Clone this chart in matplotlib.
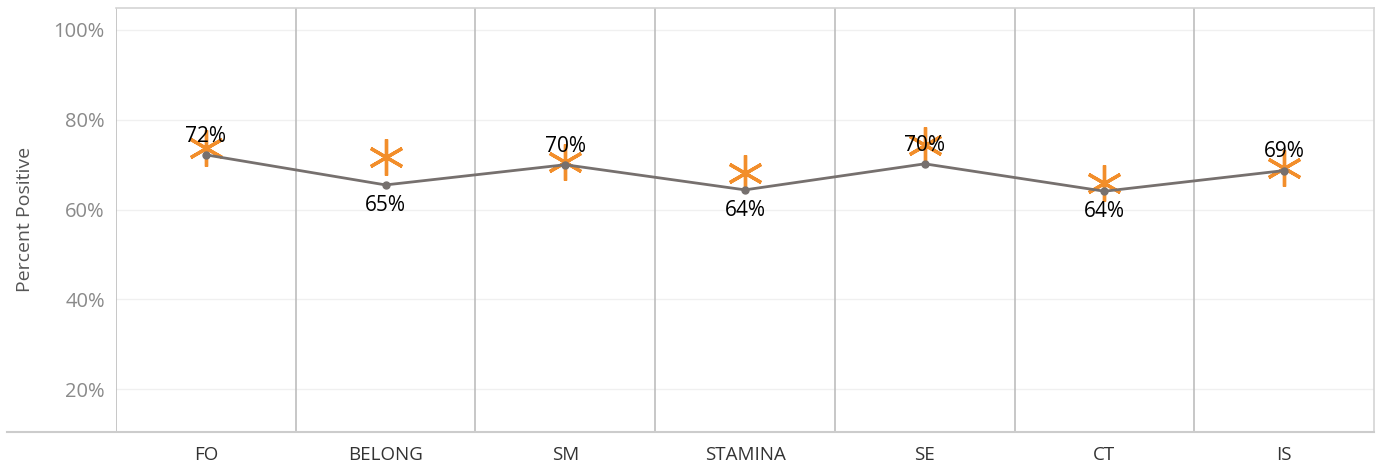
import numpy as np
import matplotlib
matplotlib.use("Agg")
from matplotlib import pyplot as plt
from matplotlib.lines import Line2D

plt.rcParams['font.family'] = ['Open Sans', 'DejaVu Sans']

categories = ["FO", "BELONG", "SM", "STAMINA", "SE", "CT", "IS"]
percent_positive = [72.2, 65.5, 70.0, 64.4, 70.2, 64.1, 68.7]
benchmark = [73.8, 71.8, 70.7, 68.2, 74.5, 66.0, 69.3]
labels = ["72%", "65%", "70%", "64%", "70%", "64%", "69%"]
label_above = [True, False, True, False, True, False, True]
yticks = [20, 40, 60, 80, 100]

fig = plt.figure(figsize=(13.8, 4.67), dpi=100)
ax = fig.add_axes([116/1380, 35/467, 1258/1380, 424.5/467])

x = np.arange(len(categories))

# horizontal gridlines
for t in yticks:
    ax.axhline(t, color="#f0f0f0", lw=1, zorder=0)

# category separators
for b in np.arange(-0.5, len(categories) - 0.5, 1.0):
    ax.axvline(b, color="#bdbdbd", lw=1.2, zorder=1)

ax.plot(x, benchmark, linestyle="none", marker=(6, 2, 0), markersize=26,
        markeredgewidth=2.4, color="#f28e2b", zorder=3)
ax.plot(x, percent_positive, color="#76706e", lw=2, marker="o", markersize=5,
        zorder=4)

for xi, v, lab, up in zip(x, percent_positive, labels, label_above):
    if up:
        ax.text(xi, v + 1.8, lab, ha="center", va="bottom", fontsize=15, color="black", zorder=5)
    else:
        ax.text(xi, v - 2.2, lab, ha="center", va="top", fontsize=15, color="black", zorder=5)

ax.set_xlim(-0.5, len(categories) - 0.5)
ax.set_ylim(10.5, 105)
ax.set_yticks(yticks)
ax.set_yticklabels([f"{t}%" for t in yticks], fontsize=14.5, color="#8a8a8a")
ax.set_xticks(x)
ax.set_xticklabels(categories, fontsize=13.5, color="#333333")
ax.tick_params(axis="y", length=0, pad=8)
ax.tick_params(axis="x", length=0, pad=10)
ax.set_ylabel("Percent Positive", fontsize=14, color="#555555", labelpad=14)

for side in ["top", "right"]:
    ax.spines[side].set_color("#d4d4d4")
    ax.spines[side].set_linewidth(1.2)
ax.spines["left"].set_visible(False)
ax.spines["bottom"].set_visible(False)

# bottom axis line extending to the left edge
fig.add_artist(Line2D([7/1380, 1374/1380], [35/467, 35/467], color="#cccccc", lw=1.5))

fig.savefig("out.png", dpi=100, facecolor="white")
